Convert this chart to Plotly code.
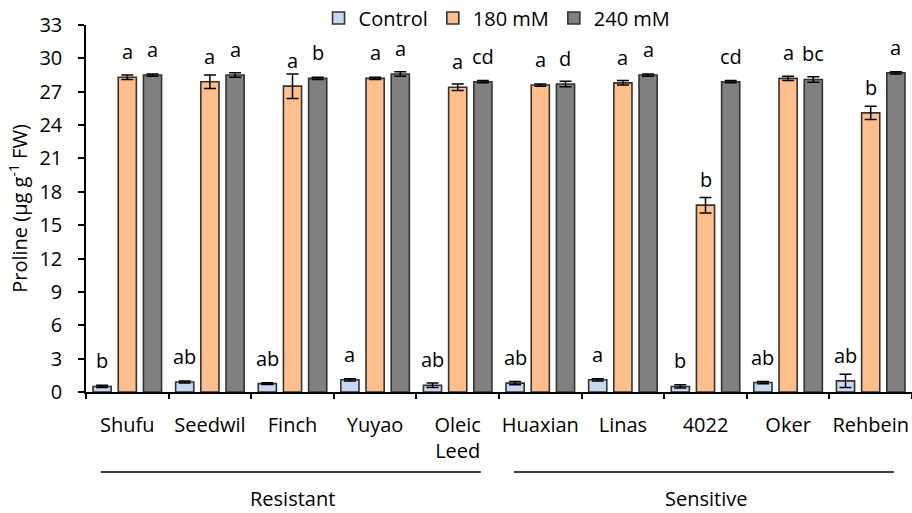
import plotly.graph_objects as go

cultivars = ["Shufu", "Seedwil", "Finch", "Yuyao", "Oleic<br>Leed",
             "Huaxian", "Linas", "4022", "Oker", "Rehbein"]
series_names = ["Control", "180 mM", "240 mM"]
control = [0.5, 0.9, 0.75, 1.1, 0.6, 0.8, 1.1, 0.5, 0.85, 1.0]
control_err = [0.1, 0.1, 0.08, 0.1, 0.2, 0.15, 0.1, 0.15, 0.1, 0.6]
mm180 = [28.3, 27.9, 27.5, 28.2, 27.4, 27.6, 27.8, 16.8, 28.2, 25.1]
mm180_err = [0.2, 0.6, 1.1, 0.1, 0.3, 0.1, 0.2, 0.7, 0.2, 0.6]
mm240 = [28.5, 28.5, 28.2, 28.6, 27.9, 27.7, 28.5, 27.9, 28.1, 28.7]
mm240_err = [0.1, 0.2, 0.1, 0.2, 0.1, 0.25, 0.1, 0.1, 0.25, 0.1]
letters_control = ["b", "ab", "ab", "a", "ab", "ab", "a", "b", "ab", "ab"]
letters_180 = ["a", "a", "a", "a", "a", "a", "a", "b", "a", "b"]
letters_240 = ["a", "a", "b", "a", "cd", "d", "a", "cd", "bc", "a"]
groups = ["Resistant", "Sensitive"]
group_spans = [(0, 4), (5, 9)]

colors = ["#C6D9F1", "#FFBF8C", "#808080"]
FONT = "Open Sans"
FS = 20

fig = go.Figure()
data = [(control, control_err, letters_control),
        (mm180, mm180_err, letters_180),
        (mm240, mm240_err, letters_240)]
for i, (vals, errs, lets) in enumerate(data):
    fig.add_trace(go.Bar(
        x=list(range(len(cultivars))), y=vals, name=series_names[i],
        marker=dict(color=colors[i], line=dict(color="#333333", width=1.6)),
        error_y=dict(type="data", array=errs, color="black", thickness=1.5, width=6),
    ))

BARGAP = 0.085
slot = (1 - BARGAP) / 3
offsets = [-1, 0, 1]
for i, (vals, errs, lets) in enumerate(data):
    for j in range(len(cultivars)):
        fig.add_annotation(
            x=j + offsets[i] * slot, y=vals[j], xref="x", yref="y",
            text=lets[j], showarrow=False, yanchor="bottom", yshift=10,
            font=dict(family=FONT, size=FS, color="black"))

for g, (a, b) in zip(groups, group_spans):
    fig.add_shape(type="line", xref="x", yref="paper",
                  x0=a - 0.32, x1=b + 0.28, y0=-0.218, y1=-0.218,
                  line=dict(color="black", width=1.5))
    fig.add_annotation(x=(a + b) / 2, y=-0.289, xref="x", yref="paper",
                       text=g, showarrow=False, yanchor="middle",
                       font=dict(family=FONT, size=FS, color="black"))

fig.update_layout(
    width=912, height=513,
    margin=dict(l=86, r=0, t=25, b=121, autoexpand=False),
    paper_bgcolor="white", plot_bgcolor="white",
    barmode="group", bargap=BARGAP, bargroupgap=0.28,
    font=dict(family=FONT, size=FS, color="black"),
    legend=dict(orientation="h", x=0.545, xanchor="center", xref="container",
                y=0.965, yanchor="middle", yref="container",
                font=dict(family=FONT, size=FS), itemwidth=30,
                tracegroupgap=0, bgcolor="rgba(0,0,0,0)"),
    showlegend=True,
)
fig.update_xaxes(showline=True, linecolor="black", linewidth=1.5,
                 tickmode="array", tickvals=list(range(len(cultivars))), ticktext=cultivars,
                 ticks="", range=[-0.5, 9.5], ticklabelstandoff=14,
                 tickfont=dict(family=FONT, size=FS), showgrid=False, zeroline=False)
fig.update_xaxes(minor=dict(tickmode="array", tickvals=[k - 0.5 for k in range(len(cultivars) + 1)],
                            ticks="outside", ticklen=5, tickcolor="black", tickwidth=1.5))
fig.update_yaxes(range=[0, 33], dtick=3, showline=True, linecolor="black", linewidth=1.5,
                 ticks="outside", ticklen=6, tickwidth=1.5, tickcolor="black", showgrid=False,
                 zeroline=False, tickfont=dict(family=FONT, size=FS), ticklabelstandoff=12,
                 title=dict(text="Proline (µg g<sup>-1</sup> FW)", font=dict(family=FONT, size=FS), standoff=6))

fig.write_html("out.html", config={"displayModeBar": False},
               post_script="document.body.style.margin='0';"
                           "document.documentElement.style.overflow='hidden';")
